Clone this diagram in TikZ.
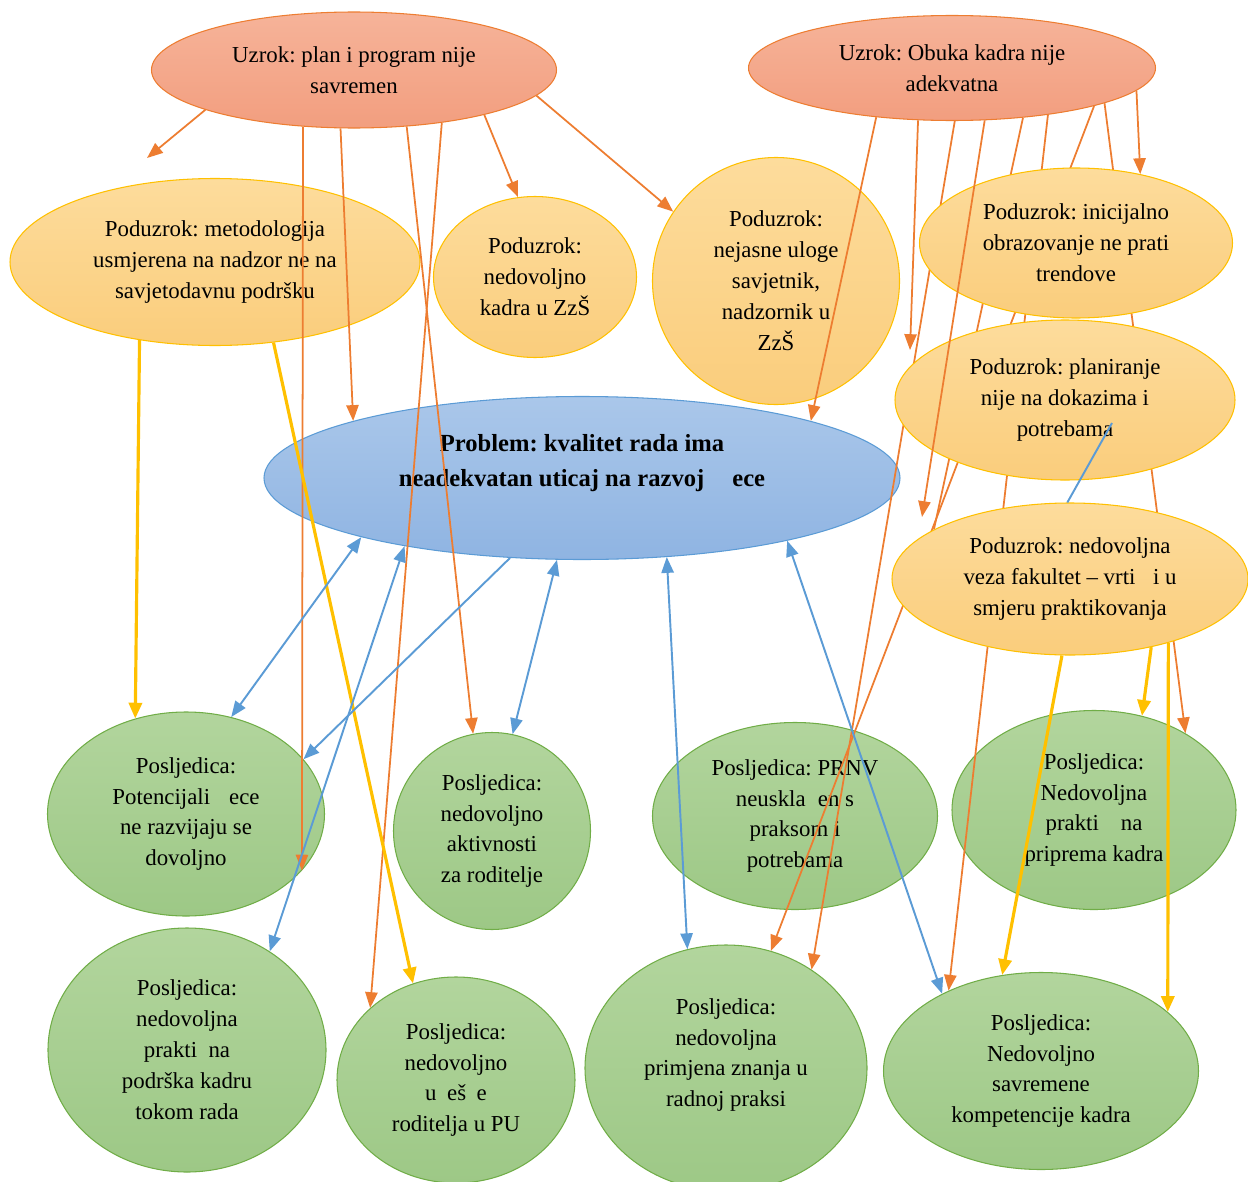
\documentclass[tikz,border=0pt]{standalone}
\usepackage{fontspec}
\setmainfont{Liberation Serif}
\frenchspacing
\usetikzlibrary{arrows.meta,shapes.geometric}

\definecolor{causeorange}{HTML}{ED7D31}
\definecolor{linkblue}{HTML}{5B9BD5}
\definecolor{linkyellow}{HTML}{FFC000}
\definecolor{effgreen}{HTML}{70AD47}
\definecolor{causetop}{HTML}{F6B399}
\definecolor{causebot}{HTML}{F29E7F}
\definecolor{subtop}{HTML}{FDDC9C}
\definecolor{subbot}{HTML}{FACD7C}
\definecolor{probtop}{HTML}{AAC7EA}
\definecolor{probbot}{HTML}{8FB4E2}
\definecolor{efftop}{HTML}{B2D59D}
\definecolor{effbot}{HTML}{9DC886}

\pgfdeclarelayer{behind}
\pgfsetlayers{behind,main}

\tikzset{
  oval/.style={ellipse, inner sep=0pt, align=center, line width=0.6pt,
    font=\fontsize{13}{17.6}\selectfont},
  causenode/.style={oval, draw=causeorange, top color=causetop, bottom color=causebot},
  subnode/.style={oval, draw=linkyellow, top color=subtop, bottom color=subbot},
  probnode/.style={oval, draw=linkblue, top color=probtop, bottom color=probbot},
  effnode/.style={oval, draw=effgreen, top color=efftop, bottom color=effbot},
  orplain/.style={draw=causeorange, line width=1pt},
  orarrow/.style={orplain, -{Triangle[length=9pt,width=7pt]}},
  blplain/.style={draw=linkblue, line width=1.1pt},
  blarrow/.style={blplain, -{Triangle[length=9pt,width=7pt]}},
  blboth/.style={blplain, {Triangle[length=9pt,width=7pt]}-{Triangle[length=9pt,width=7pt]}},
  ylarrow/.style={draw=linkyellow, line width=1.8pt, -{Triangle[length=9pt,width=7.5pt]}}
}

\begin{document}
\begin{tikzpicture}

  \useasboundingbox (0,0) rectangle (24.96,-23.64);

  % sub-causes on the right (drawn over the lines behind them)
  \node[subnode, minimum width=6.26cm, minimum height=3.00cm] (sub4) at (21.52,-4.86)
    {Poduzrok: inicijalno\\obrazovanje ne prati\\trendove};
  \node[subnode, minimum width=6.80cm, minimum height=3.20cm] (sub5) at (21.30,-8.00)
    {Poduzrok: planiranje\\nije na dokazima i\\potrebama};
  \node[subnode, minimum width=7.12cm, minimum height=3.04cm] (sub6) at (21.40,-11.58)
    {Poduzrok: nedovoljna\\veza fakultet -- vrti\hspace{10pt}i u\\smjeru praktikovanja};

  \begin{pgfonlayer}{behind}
    % causes
    \node[causenode, minimum width=8.10cm, minimum height=2.32cm] (cause1) at (7.08,-1.40)
      {Uzrok: plan i program nije\\savremen};
    \node[causenode, minimum width=8.14cm, minimum height=2.10cm] (cause2) at (19.04,-1.36)
      {Uzrok: Obuka kadra nije\\adekvatna};

    % sub-causes on the left
    \node[subnode, minimum width=8.20cm, minimum height=3.34cm] (sub1) at (4.30,-5.24)
      {Poduzrok: metodologija\\usmjerena na nadzor ne na\\savjetodavnu podršku};
    \node[subnode, minimum width=4.06cm, minimum height=3.22cm] (sub2) at (10.70,-5.54)
      {Poduzrok:\\nedovoljno\\kadra u ZzŠ};
    \node[subnode, minimum size=4.94cm] (sub3) at (15.52,-5.62)
      {Poduzrok:\\nejasne uloge\\savjetnik,\\nadzornik u\\ZzŠ};

    % problem
    \node[probnode, minimum width=12.72cm, minimum height=3.26cm] (prob) at (11.64,-9.56) {};
    \node[font=\fontsize{14}{20}\selectfont\bfseries, align=center] (probtext)
      at ([yshift=0.3cm]prob.center)
      {Problem: kvalitet rada ima\\neadekvatan uticaj na razvoj\hspace{16pt}ece};

    % consequences
    \node[effnode, minimum width=5.54cm, minimum height=4.08cm] (eff1) at (3.72,-16.28)
      {Posljedica:\\Potencijali\hspace{10.8pt}ece\\ne razvijaju se\\dovoljno};
    \node[effnode, minimum size=3.94cm] (eff2) at (9.84,-16.62)
      {Posljedica:\\nedovoljno\\aktivnosti\\za roditelje};
    \node[effnode, minimum width=5.70cm, minimum height=3.74cm] (eff3) at (15.90,-16.32)
      {Posljedica: PRNV\\neuskla\hspace{7pt}en s\\praksom i\\potrebama};
    \node[effnode, minimum width=5.68cm, minimum height=3.98cm] (eff4) at (21.88,-16.20)
      {Posljedica:\\Nedovoljna\\prakti\hspace{12.5pt}na\\priprema kadra};
    \node[effnode, minimum width=5.56cm, minimum height=4.88cm] (eff5) at (3.74,-21.00)
      {Posljedica:\\nedovoljna\\prakti\hspace{6.5pt}na\\podrška kadru\\tokom rada};
    \node[effnode, minimum width=4.76cm, minimum height=4.12cm] (eff6) at (9.12,-21.60)
      {Posljedica:\\nedovoljno\\u\hspace{6pt}eš\hspace{6pt}e\\roditelja u PU};
    \node[effnode, minimum width=5.64cm, minimum height=4.92cm] (eff7) at (14.52,-21.36) {};
    \node[font=\fontsize{13}{17.6}\selectfont, align=center] (eff7text)
      at ([yshift=0.26cm]eff7.center)
      {Posljedica:\\nedovoljna\\primjena znanja u\\radnoj praksi};
    \node[effnode, minimum width=6.30cm, minimum height=3.94cm] (eff8) at (20.82,-21.42)
      {Posljedica:\\Nedovoljno\\savremene\\kompetencije kadra};

    % lines running behind the right-hand sub-causes
    \draw[orarrow] (cause2.273) -- (eff7.49);
    \draw[orarrow] (cause2.334) -- (eff8.139);
    \draw[orarrow] (cause2.345) -- (eff7.69);
    \draw[orplain] (cause2.325) -- (sub6.160);
    \draw[orarrow] (cause2.347) -- (eff4.40);
  \end{pgfonlayer}

  % free ends
  \coordinate (stubA) at (2.94,-3.16);
  \coordinate (stubI) at (18.20,-7.00);
  \coordinate (stubK) at (18.44,-10.34);
  \coordinate (planpt) at (22.24,-8.46);

  % from the first cause
  \draw[orarrow] (cause1.195) -- (stubA);
  \draw[orarrow] (cause1.228) -- (eff1.334);
  \draw[orarrow] (cause1.257) -- (prob.166);
  \draw[orarrow] (cause1.313) -- (eff2.101);
  \draw[orarrow] (cause1.329) -- (eff6.140);
  \draw[orarrow] (cause1.341) -- (sub2.102);
  \draw[orarrow] (cause1.352) -- (sub3.146);

  % from the second cause
  \draw[orarrow] (cause2.213) -- (prob.14);
  \draw[orarrow] (cause2.237) -- (stubI);
  \draw[orarrow] (cause2.302) -- (stubK);
  \draw[orarrow] (cause2.353) -- (sub4.47);

  % sub-causes to consequences
  \draw[ylarrow] (sub1.226) -- (eff1.118);
  \draw[ylarrow] (sub1.306) -- (eff6.114);
  \draw[ylarrow] (sub6.264) -- (eff8.112);
  \draw[ylarrow] (sub6.320) -- (eff4.63);
  \draw[ylarrow] (sub6.327) -- (eff8.25);

  % problem and consequences
  \draw[blboth] (prob.195) -- (eff1.65);
  \draw[blboth] (prob.201) -- (eff5.50);
  \draw[blarrow] (prob.228) -- (eff1.25);
  \draw[blboth] (prob.253) -- (eff2.78);
  \draw[blboth] (prob.317) -- (eff7.108);
  \draw[blboth] (prob.343) -- (eff8.142);
  \draw[blplain] (planpt) -- (sub6.92);
\end{tikzpicture}
\end{document}
